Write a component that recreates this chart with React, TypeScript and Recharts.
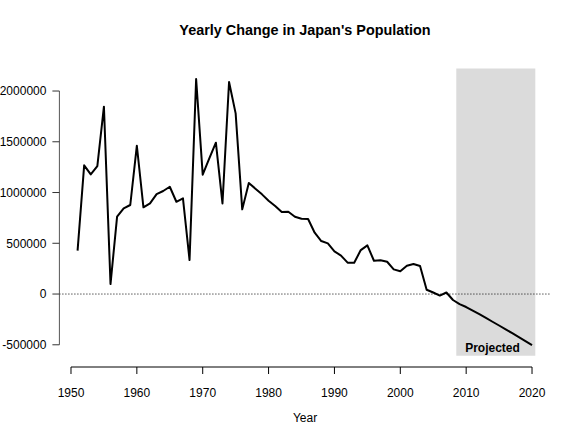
import React from 'react';
import {
  LineChart,
  Line,
  XAxis,
  YAxis,
  ReferenceLine,
  ReferenceArea,
  ReferenceDot,
} from 'recharts';

// Year-over-year change in Japan's total population (persons)
const years = [
  1951, 1952, 1953, 1954, 1955, 1956, 1957, 1958, 1959, 1960,
  1961, 1962, 1963, 1964, 1965, 1966, 1967, 1968, 1969, 1970,
  1971, 1972, 1973, 1974, 1975, 1976, 1977, 1978, 1979, 1980,
  1981, 1982, 1983, 1984, 1985, 1986, 1987, 1988, 1989, 1990,
  1991, 1992, 1993, 1994, 1995, 1996, 1997, 1998, 1999, 2000,
  2001, 2002, 2003, 2004, 2005, 2006, 2007, 2008, 2009, 2010,
  2011, 2012, 2013, 2014, 2015, 2016, 2017, 2018, 2019, 2020,
];

const change = [
  427000, 1268000, 1179000, 1261000, 1846000, 98000, 762000, 844000, 877000, 1461000,
  854000, 893000, 985000, 1015000, 1057000, 909000, 943000, 335000, 2118000, 1176000,
  1337000, 1491000, 893000, 2089000, 1780000, 834000, 1093000, 1038000, 982000, 919000,
  867000, 808000, 811000, 762000, 742000, 739000, 604000, 522000, 499000, 420000,
  379000, 309000, 309000, 433000, 479000, 328000, 332000, 318000, 243000, 224000,
  279000, 296000, 276000, 42000, 15000, -15000, 15000, -59000, -99000, -128000,
  -163000, -199000, -236000, -273000, -310000, -348000, -386000, -424000, -463000, -503000,
];

const xTicks = [1950, 1960, 1970, 1980, 1990, 2000, 2010, 2020];
const yTicks = [-500000, 0, 500000, 1000000, 1500000, 2000000];

// Shaded span of projected (not yet observed) years
const projectedFrom = 2008.5;
const projectedTo = 2020.5;
const projectedText = 'Projected';
const projectedTextYear = 2014;
const projectedTextValue = -530000;

const data = years.map((year, i) => ({ year, change: change[i] }));

// Plotting range: data extent widened by 4% on each side
const widen = (lo: number, hi: number): [number, number] => {
  const d = (hi - lo) * 0.04;
  return [lo - d, hi + d];
};
const [xMin, xMax] = widen(Math.min(...years), Math.max(...years));
const [yLo, yHi] = widen(Math.min(...change), Math.max(...change));
// the horizontal axis is set a little below the plotting range
const yFloor = yLo - 111000;

const FONT = '"Liberation Sans", Arial, Helvetica, sans-serif';

export default function App() {
  return (
    <div
      style={{
        position: 'absolute',
        left: 0,
        top: 0,
        width: 580,
        height: 440,
        background: '#fff',
        fontFamily: FONT,
      }}
    >
      <LineChart
        width={580}
        height={440}
        data={data}
        margin={{ top: 68.4, right: 29.8, bottom: 33, left: 0 }}
      >
        <XAxis
          dataKey="year"
          type="number"
          domain={[xMin, xMax]}
          ticks={xTicks}
          interval={0}
          allowDataOverflow
          height={40}
          axisLine={false}
          tickLine={{ stroke: '#000' }}
          tickSize={7}
          tickMargin={14}
          tick={{ fill: '#000', fontSize: 12, fontFamily: FONT }}
        />
        <YAxis
          type="number"
          domain={[yFloor, yHi]}
          ticks={yTicks}
          interval={0}
          allowDataOverflow
          width={59.4}
          axisLine={false}
          tickLine={{ stroke: '#333' }}
          tickSize={7}
          tickMargin={6}
          tick={{ fill: '#000', fontSize: 12, fontFamily: FONT }}
          tickFormatter={(v: number) => String(v)}
        />
        <ReferenceArea
          x1={projectedFrom}
          x2={projectedTo}
          y1={yLo}
          y2={yHi}
          fill="#dbdbdb"
          fillOpacity={1}
          stroke="none"
          ifOverflow="visible"
        />
        <ReferenceLine y={0} stroke="#000" strokeDasharray="1 2" />
        <ReferenceLine
          segment={[
            { x: xTicks[0], y: yFloor },
            { x: xTicks[xTicks.length - 1], y: yFloor },
          ]}
          stroke="#000"
          ifOverflow="visible"
        />
        <ReferenceLine
          segment={[
            { x: xMin, y: yTicks[0] },
            { x: xMin, y: yTicks[yTicks.length - 1] },
          ]}
          stroke="#555"
          ifOverflow="visible"
        />
        <Line
          type="linear"
          dataKey="change"
          stroke="#000"
          strokeWidth={2}
          strokeLinejoin="round"
          dot={false}
          activeDot={false}
          isAnimationActive={false}
        />
        <ReferenceDot
          x={projectedTextYear}
          y={projectedTextValue}
          r={0}
          fill="none"
          stroke="none"
          ifOverflow="visible"
          label={{
            value: projectedText,
            position: 'center',
            fill: '#000',
            fontSize: 12,
            fontWeight: 'bold',
            fontFamily: FONT,
          }}
        />
        <text
          x={305}
          y={35}
          textAnchor="middle"
          fontSize={14.4}
          fontWeight="bold"
          fontFamily={FONT}
          fill="#000"
        >
          Yearly Change in Japan's Population
        </text>
        <text
          x={305}
          y={422}
          textAnchor="middle"
          fontSize={12}
          fontFamily={FONT}
          fill="#000"
        >
          Year
        </text>
      </LineChart>
    </div>
  );
}
